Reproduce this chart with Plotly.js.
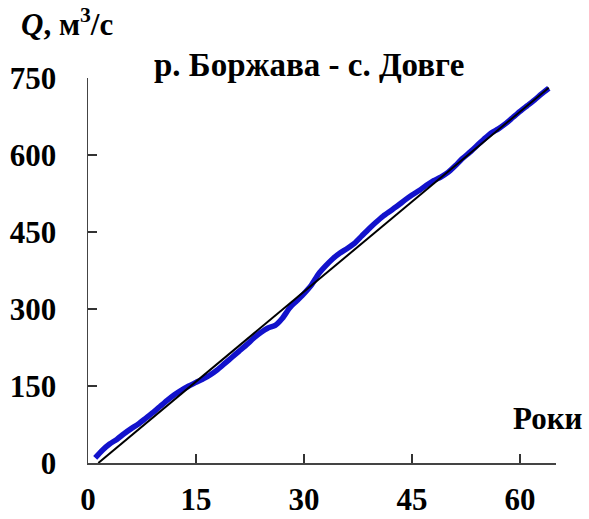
<!DOCTYPE html>
<html>
<head>
<meta charset="utf-8">
<script src="https://cdn.plot.ly/plotly-3.0.1.min.js"></script>
<style>html,body{margin:0;padding:0;background:#fff;}#chart{width:589px;height:519px;}</style>
</head>
<body>
<div id="chart"></div>
<script>
// Years (x) and cumulative discharge Q, m3/s (blue curve)
const years = [1,2,3,4,5,6,7,8,9,10,11,12,13,14,15,16,17,18,19,20,21,22,23,24,25,26,27,28,29,30,31,32,33,34,35,36,37,38,39,40,41,42,43,44,45,46,47,48,49,50,51,52,53,54,55,56,57,58,59,60,61,62,63,64];
const cumQ = [10,25,37,46,57,67,76,87,98,110,122,133,142,150,157,164,172,182,194,206,218,230,243,254,263,268,282,302,316,330,346,368,384,398,409,418,428,442,456,469,481,491,501,512,522,531,541,550,557,566,579,593,605,618,631,643,651,661,673,685,696,707,719,730];
// Straight reference line (endpoints)
const lineX = [1.43, 64];
const lineY = [0, 731];
const xTicks = [0,15,30,45,60];
const yTicks = [0,150,300,450,600,750];

const F = "'Liberation Serif','Times New Roman',serif";

const traces = [
  {x: years, y: cumQ, type:'scatter', mode:'lines', line:{color:'#1212cc', width:5.5, shape:'spline', smoothing:0.6}, hoverinfo:'skip'},
  {x: lineX, y: lineY, type:'scatter', mode:'lines', line:{color:'#000000', width:2}, hoverinfo:'skip'}
];

const layout = {
  width:589, height:519,
  margin:{l:88, r:33, t:78, b:56, pad:0},
  paper_bgcolor:'#ffffff', plot_bgcolor:'#ffffff',
  showlegend:false,
  font:{family:F, color:'#000'},
  xaxis:{range:[0,65], tickvals:xTicks, ticktext:xTicks.map(String), ticks:'inside', ticklen:9, tickwidth:1.5, tickcolor:'#333',
    showline:true, linecolor:'#444', linewidth:1.5, showgrid:false, zeroline:false,
    tickfont:{family:F, size:31, color:'#000', weight:'bold'}, ticklabelstandoff:8, fixedrange:true},
  yaxis:{range:[0,750], tickvals:yTicks, ticktext:yTicks.map(String), ticks:'inside', ticklen:9, tickwidth:1.5, tickcolor:'#333',
    showline:true, linecolor:'#444', linewidth:1.5, showgrid:false, zeroline:false,
    tickfont:{family:F, size:31, color:'#000', weight:'bold'}, ticklabelstandoff:24, fixedrange:true},
  annotations:[
    {text:'<b>р. Боржава - с. Довге</b>', xref:'paper', yref:'paper', x:0.137, y:1.035, xanchor:'left', yanchor:'middle', showarrow:false,
      font:{family:F, size:33, color:'#000'}},
    {text:'<b><i>Q</i>, м<sup>3</sup>/с</b>', xref:'paper', yref:'paper', x:-0.148, y:1.145, xanchor:'left', yanchor:'middle', showarrow:false,
      font:{family:F, size:31, color:'#000'}},
    {text:'<b>Роки</b>', xref:'paper', yref:'paper', x:1.062, y:0.115, xanchor:'right', yanchor:'middle', showarrow:false,
      font:{family:F, size:31, color:'#000'}}
  ]
};

Plotly.newPlot('chart', traces, layout, {staticPlot:true, displayModeBar:false});
</script>
</body>
</html>
